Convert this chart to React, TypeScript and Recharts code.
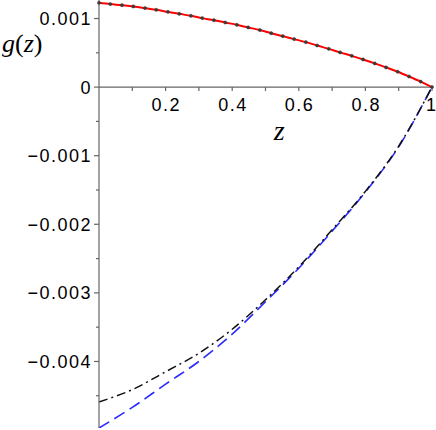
import { LineChart, Line, XAxis, YAxis, ReferenceLine, ReferenceDot } from "recharts";

// red curve, sampled points (g in units of 1e-3)
const redZ = [
  0, 0.034, 0.069, 0.103, 0.138, 0.172, 0.207, 0.241, 0.276, 0.31,
  0.345, 0.379, 0.414, 0.448, 0.483, 0.517, 0.552, 0.586, 0.621, 0.655,
  0.69, 0.724, 0.759, 0.793, 0.828, 0.862, 0.897, 0.931, 0.966, 1,
];
const redG = [
  1.229, 1.21, 1.195, 1.176, 1.152, 1.127, 1.097, 1.068, 1.04, 1.006,
  0.976, 0.942, 0.908, 0.87, 0.832, 0.786, 0.743, 0.7, 0.656, 0.607,
  0.558, 0.506, 0.456, 0.403, 0.346, 0.287, 0.224, 0.155, 0.08, 0,
];

// lower curves
const curveZ = [0, 0.1, 0.2, 0.3, 0.4, 0.5, 0.6, 0.7, 0.8, 0.9, 1];
const blackG = [-4.59, -4.41, -4.15, -3.88, -3.53, -3.1, -2.62, -2.08, -1.52, -0.86, 0];
const blueG = [-4.97, -4.67, -4.33, -4.0, -3.6, -3.13, -2.64, -2.1, -1.53, -0.87, 0];

const yTicks = [-0.0045, -0.004, -0.0035, -0.003, -0.0025, -0.002, -0.0015, -0.001, -0.0005, 0, 0.0005, 0.001];
const xTicks = [0.1, 0.2, 0.3, 0.4, 0.5, 0.6, 0.7, 0.8, 0.9, 1];
const xLabels = ["", "0.2", "", "0.4", "", "0.6", "", "0.8", "", "1"];

const MILLI = 0.001;
const AXIS = "#666";
const SANS = "'Liberation Sans', Arial, sans-serif";
const SERIF = "'Liberation Serif', 'Times New Roman', serif";

const redData = redZ.map((z, i) => ({ z, g: redG[i] * MILLI }));
const blackData = curveZ.map((z, i) => ({ z, g: blackG[i] * MILLI }));
const blueData = curveZ.map((z, i) => ({ z, g: blueG[i] * MILLI }));

const fmtY = (v: number) => {
  if (Math.abs(v) < 1e-12) return "0";
  const s = Math.abs(v).toFixed(3);
  return v < 0 ? "\u2212" + s : s;
};

function YTick(props: any) {
  const { x, y, payload } = props;
  const v = payload.value;
  const major = Math.abs(v / MILLI - Math.round(v / MILLI)) < 1e-6;
  return (
    <g>
      <line x1={x - (major ? 5 : 3)} y1={y} x2={x} y2={y} stroke={AXIS} strokeWidth={1.2} />
      {major && (
        <text x={x - 7} y={y + 6.5} textAnchor="end" style={{ fontFamily: SANS }} fontSize={18} letterSpacing={1.5} fill="#000">
          {fmtY(v)}
        </text>
      )}
    </g>
  );
}

function XTick({ cx, cy, label, last }: any) {
  return (
    <g>
      <line x1={cx} y1={cy} x2={cx} y2={cy + 4} stroke={AXIS} strokeWidth={1.2} />
      {label && (
        <text
          x={last ? cx + 4 : cx + 0.75}
          y={cy + 24}
          textAnchor={last ? "end" : "middle"}
          style={{ fontFamily: SANS }}
          fontSize={18}
          letterSpacing={last ? 0 : 1.5}
          fill="#000"
        >
          {label}
        </text>
      )}
    </g>
  );
}

function YName({ viewBox }: any) {
  return (
    <text x={viewBox.x + 2} y={viewBox.y + 52} style={{ fontFamily: SERIF }} fontSize={26} fill="#000">
      <tspan fontStyle="italic">g</tspan>
      <tspan>(</tspan>
      <tspan fontStyle="italic">z</tspan>
      <tspan>)</tspan>
    </text>
  );
}

export default function App() {
  return (
    <div style={{ position: "absolute", left: 0, top: 0 }}>
      <LineChart width={436} height={430} margin={{ top: 0, right: 4, bottom: 2, left: 0 }}>
        <XAxis type="number" dataKey="z" domain={[0, 1]} hide />
        <YAxis
          type="number"
          width={99}
          domain={[-0.00497, 0.00127]}
          allowDataOverflow
          ticks={yTicks}
          interval={0}
          tickSize={0}
          tickMargin={0}
          tickLine={false}
          axisLine={{ stroke: AXIS, strokeWidth: 1.2 }}
          tick={<YTick />}
          label={<YName />}
        />
        <ReferenceLine y={0} stroke={AXIS} strokeWidth={1.2} />
        {xTicks.map((t, i) => (
          <ReferenceDot
            key={t}
            x={t}
            y={0}
            r={0}
            ifOverflow="visible"
            shape={(p: any) => <XTick cx={p.cx} cy={p.cy} label={xLabels[i]} last={i === xTicks.length - 1} />}
          />
        ))}
        <ReferenceDot
          x={0.535}
          y={0}
          r={0}
          ifOverflow="visible"
          shape={(p: any) => (
            <text x={p.cx + 2} y={p.cy + 53} textAnchor="middle" style={{ fontFamily: SERIF }} fontStyle="italic" fontSize={28} fill="#000">
              z
            </text>
          )}
        />
        <Line
          data={blueData}
          dataKey="g"
          type="monotone"
          stroke="#2b2bff"
          strokeWidth={1.6}
          strokeDasharray="12 6"
          dot={false}
          isAnimationActive={false}
        />
        <Line
          data={blackData}
          dataKey="g"
          type="monotone"
          stroke="#111"
          strokeWidth={1.5}
          strokeDasharray="9 4 2 4"
          dot={false}
          isAnimationActive={false}
        />
        <Line
          data={redData}
          dataKey="g"
          type="monotone"
          stroke="#ff0000"
          strokeWidth={2}
          dot={{ r: 1.6, fill: "#3b3b3b", stroke: "#3b3b3b", strokeWidth: 0.5 }}
          isAnimationActive={false}
        />
      </LineChart>
    </div>
  );
}
